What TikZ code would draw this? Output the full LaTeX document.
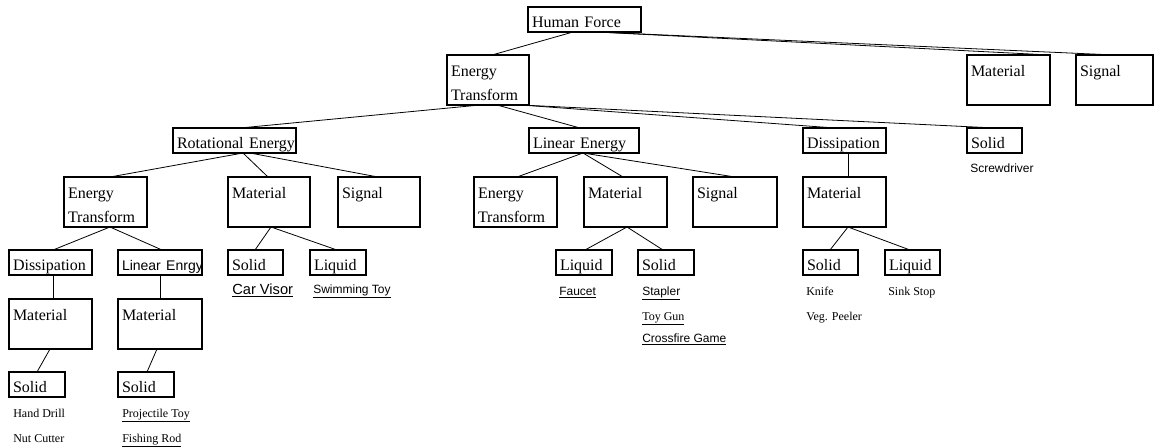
\documentclass[tikz,border=0pt]{standalone}
\usepackage{fontspec}
\setmainfont{Liberation Serif}
\newfontfamily\arialf{Liberation Sans}
\usetikzlibrary{calc}
\begin{document}
\begin{tikzpicture}[x=0.75pt,y=-0.75pt,
  box/.style={draw, line width=2pt, rectangle, anchor=north west, inner xsep=3pt, inner ysep=0pt, outer sep=0pt, align=left, font=\fontsize{12}{18}\selectfont},
  bone/.style={box, text height=15pt, text depth=3.75pt},
  btwo/.style={box, text height=15.75pt, text depth=21.75pt},
  bw/.style={minimum width=#1*0.75pt, text width=#1*0.75pt-6pt},
  conn/.style={line width=0.6pt},
  lbl/.style={anchor=base west, inner sep=0pt, font=\fontsize{9}{11}\selectfont},
  slbl/.style={lbl, font=\arialf\fontsize{9}{11}\selectfont},
]
\useasboundingbox (0,0) rectangle (1154,447);

% level 0
\node[bone, bw=113] (hf) at (528,7) {Human Force};
% level 1
\node[btwo, bw=82] (et1) at (447,55) {Energy\\Transform};
\node[btwo, bw=83] (mat0) at (967,55) {Material};
\node[btwo, bw=77] (sig0) at (1076,55) {Signal};
% level 2
\node[bone, bw=123] (rot) at (173,128) {\mbox{Rotational Energy}};
\node[bone, bw=110] (lin) at (529,128) {\mbox{Linear Energy}};
\node[bone, bw=83] (dis1) at (803,128) {Dissipation};
\node[bone, bw=55] (sol0) at (967,128) {Solid};
% level 3
\node[btwo, bw=83] (et2) at (64,177) {Energy\\Transform};
\node[btwo, bw=82] (mat1) at (228,177) {Material};
\node[btwo, bw=82] (sig1) at (338,177) {Signal};
\node[btwo, bw=83] (et3) at (474,177) {Energy\\Transform};
\node[btwo, bw=83] (mat2) at (584,177) {Material};
\node[btwo, bw=84] (sig2) at (693,177) {Signal};
\node[btwo, bw=83] (mat3) at (803,177) {Material};
% level 4
\node[bone, bw=83] (dis2) at (9,250) {Dissipation};
\node[bone, bw=84] (len) at (118,250) {\arialf\fontsize{10.5}{12}\selectfont\mbox{Linear Enrgy}};
\node[bone, bw=55] (sol1) at (228,250) {Solid};
\node[bone, bw=56] (liq1) at (310,250) {Liquid};
\node[bone, bw=56] (liq2) at (556,250) {Liquid};
\node[bone, bw=56] (sol2) at (638,250) {Solid};
\node[bone, bw=55] (sol3) at (803,250) {Solid};
\node[bone, bw=55] (liq3) at (885,250) {Liquid};
% level 5
\node[btwo, bw=83] (mat4) at (9,299) {Material};
\node[btwo, bw=84] (mat5) at (118,299) {Material};
% level 6
\node[bone, bw=56] (sol4) at (9,372) {Solid};
\node[bone, bw=56] (sol5) at (118,372) {Solid};

% connectors
\draw[conn] ($(hf.south west)+(45,0)$) -- ($(et1.north west)+(45,0)$);
\draw[conn] ($(hf.south west)+(69,0)$) -- (mat0.north east);
\draw[conn] ($(hf.south west)+(69,0)$) -- (sig0.north);
\draw[conn] ($(et1.south west)+(33,0)$) -- ($(rot.north west)+(67,0)$);
\draw[conn] ($(et1.south west)+(50,0)$) -- ($(lin.north west)+(51,0)$);
\draw[conn] ($(et1.south east)+(-8,0)$) -- ($(dis1.north west)+(32,0)$);
\draw[conn] ($(et1.south east)+(-8,0)$) -- ($(sol0.north west)+(28,0)$);
\draw[conn] ($(rot.south west)+(70,0)$) -- ($(et2.north west)+(46,0)$);
\draw[conn] ($(rot.south west)+(70,0)$) -- ($(mat1.north west)+(40,0)$);
\draw[conn] ($(rot.south west)+(77,0)$) -- ($(sig1.north west)+(40,0)$);
\draw[conn] ($(et2.south west)+(46,0)$) -- ($(dis2.north west)+(44,0)$);
\draw[conn] ($(et2.south west)+(46,0)$) -- ($(len.north west)+(44,0)$);
\draw[conn] ($(dis2.south west)+(44,0)$) -- ($(mat4.north west)+(44,0)$);
\draw[conn] ($(len.south west)+(42,0)$) -- ($(mat5.north west)+(42,0)$);
\draw[conn] ($(mat4.south west)+(41,0)$) -- ($(sol4.north west)+(28,0)$);
\draw[conn] ($(mat5.south west)+(39,0)$) -- ($(sol5.north west)+(29,0)$);
\draw[conn] ($(mat1.south west)+(43,0)$) -- ($(sol1.north west)+(27,0)$);
\draw[conn] ($(mat1.south west)+(43,0)$) -- ($(liq1.north west)+(27,0)$);
\draw[conn] ($(lin.south west)+(54,0)$) -- ($(et3.north west)+(43,0)$);
\draw[conn] ($(lin.south west)+(54,0)$) -- ($(mat2.north west)+(39,0)$);
\draw[conn] ($(lin.south west)+(54,0)$) -- ($(sig2.north west)+(42,0)$);
\draw[conn] ($(mat2.south west)+(43,0)$) -- ($(liq2.north west)+(29,0)$);
\draw[conn] ($(mat2.south west)+(43,0)$) -- ($(sol2.north west)+(25,0)$);
\draw[conn] ($(dis1.south west)+(45,0)$) -- ($(mat3.north west)+(45,0)$);
\draw[conn] ($(mat3.south west)+(45,0)$) -- ($(sol3.north west)+(27,0)$);
\draw[conn] ($(mat3.south west)+(45,0)$) -- ($(liq3.north west)+(25,0)$);

% labels
\node[slbl] (lscr) at (970,172) {Screwdriver};
\node[lbl, font=\arialf\fontsize{11}{13}\selectfont] (lcar) at (232,294) {\underline{Car Visor}};
\node[slbl] (lswim) at (313,293) {\underline{Swimming Toy}};
\node[slbl] (lfau) at (559,295) {\underline{Faucet}};
\node[slbl] (lsta) at (642,295) {\underline{Stapler}};
\node[lbl] (ltoy) at (642,320) {\underline{Toy Gun}};
\node[slbl] (lcro) at (642,342) {\underline{Crossfire Game}};
\node[lbl] (lkni) at (806,295) {Knife};
\node[lbl] (lveg) at (806,320) {Veg. Peeler};
\node[lbl] (lsink) at (888,295) {Sink Stop};
\node[lbl] (lhand) at (13,417) {Hand Drill};
\node[lbl] (lnut) at (13,442) {Nut Cutter};
\node[lbl] (lproj) at (122,417) {\underline{Projectile Toy}};
\node[lbl] (lfish) at (122,442) {\underline{Fishing Rod}};
\end{tikzpicture}
\end{document}
